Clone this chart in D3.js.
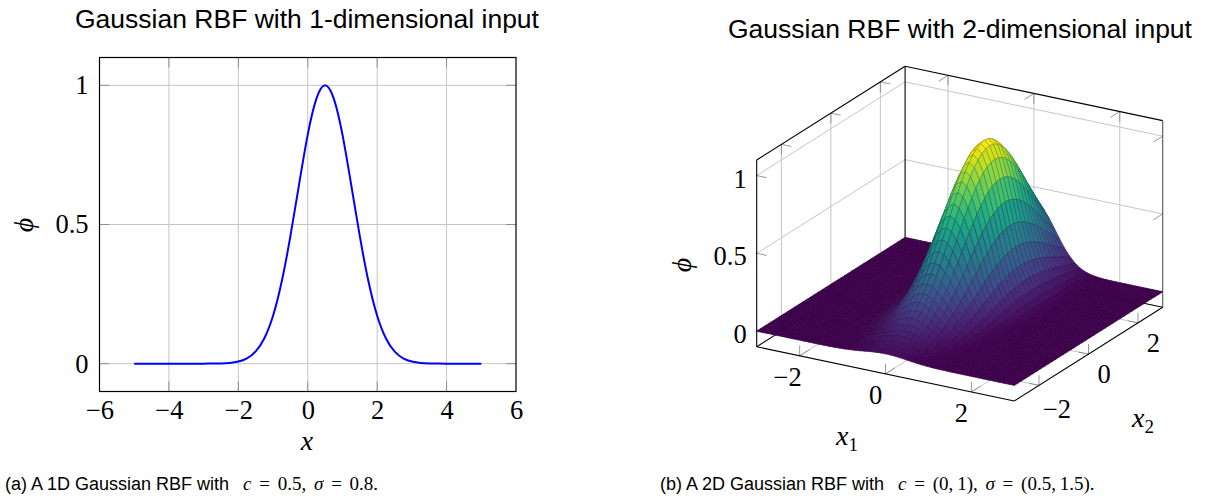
<!DOCTYPE html>
<html>
<head>
<meta charset="utf-8">
<script src="https://cdnjs.cloudflare.com/ajax/libs/d3/7.8.5/d3.min.js"></script>
<style>
    html, body { margin: 0; padding: 0; background: #fff; }
    svg { display: block; }
    text { fill: #000; }
    .title { font-family: "Liberation Sans", Arial, sans-serif; font-size: 26.5px; }
    .caption { font-family: "Liberation Sans", Arial, sans-serif; font-size: 18px; }
    .math { font-family: "Liberation Serif", serif; font-size: 19px; word-spacing: 3px; }
    .mathIt { font-family: "Liberation Serif", serif; font-size: 19px; font-style: italic; }
    .tickLabel, .tickLabel text { font-family: "Liberation Serif", serif; font-size: 26.5px; }
    .axisLabel { font-family: "Liberation Serif", serif; font-style: italic; font-size: 28px; }
</style>
</head>
<body>
<script>
// 1D curve
const curveX = [-5,-4.75,-4.5,-4.25,-4,-3.75,-3.5,-3.25,-3,-2.75,-2.5,-2.25,-2,-1.75,-1.5,-1.25,-1,-0.75,-0.5,-0.25,0,0.25,0.5,0.75,1,1.25,1.5,1.75,2,2.25,2.5,2.75,3,3.25,3.5,3.75,4,4.25,4.5,4.75,5];
const curvePhi = [0,0,0,0,0,0,0,0,0.0001,0.0003,0.0009,0.0027,0.0076,0.0192,0.0439,0.0914,0.172,0.295,0.458,0.644,0.823,0.952,1,0.952,0.823,0.644,0.458,0.295,0.172,0.0914,0.0439,0.0192,0.0076,0.0027,0.0009,0.0003,0.0001,0,0,0,0];

// surface profiles: height along x1 through the ridge, height along x2 through the ridge
const profileX1 = [0,0,0,0,0,0,0,0.0001,0.0002,0.0006,0.0015,0.0035,0.0077,0.0158,0.0307,0.0561,0.097,0.1583,0.2438,0.3546,0.4868,0.6308,0.7717,0.8912,0.9716,1,0.9716,0.8912,0.7717,0.6308,0.4868,0.3546,0.2438,0.1583,0.097,0.0561,0.0307,0.0158,0.0077,0.0035,0.0015,0.0006,0.0002,0.0001,0,0,0,0,0,0,0];
const profileX2 = [0.0286,0.0374,0.0484,0.0619,0.0784,0.0983,0.122,0.1497,0.1819,0.2187,0.2602,0.3063,0.3567,0.4111,0.4689,0.5292,0.591,0.6531,0.7141,0.7727,0.8276,0.8768,0.9192,0.9538,0.9792,0.9947,1,0.9947,0.9792,0.9538,0.9192,0.8768,0.8276,0.7727,0.7141,0.6531,0.591,0.5292,0.4689,0.4111];

const xTicks2d = [-6,-4,-2,0,2,4,6];
const yTicks2d = [0,0.5,1];
const x1Ticks = [-2,0,2];
const x2Ticks = [-2,0,2];
const zTicks = [0,0.5,1];

const gridColor = "#c6c6c6";
const tickColor = "#808080";

let svg = d3.select("body").append("svg").attr("width", 1212).attr("height", 499);

function addText(x, y, cls, txt){
    return svg.append("text").attr("class", cls).attr("x", x).attr("y", y).text(txt);
}

/* ---------- left panel ---------- */
function drawLeft(){
    let box = { left: 99.5, right: 516, top: 57.5, bottom: 391.5 };
    let x = d3.scaleLinear().domain([-6, 6]).range([box.left, box.right]);
    let y = d3.scaleLinear().domain([-0.1, 1.1]).range([box.bottom, box.top]);
    let g = svg.append("g");

    g.selectAll(".vgrid").data(xTicks2d.slice(1, -1)).join("line")
        .attr("x1", d => x(d)).attr("x2", d => x(d))
        .attr("y1", box.top).attr("y2", box.bottom)
        .attr("stroke", gridColor);
    g.selectAll(".hgrid").data(yTicks2d).join("line")
        .attr("class", "hgrid")
        .attr("x1", box.left).attr("x2", box.right)
        .attr("y1", d => y(d)).attr("y2", d => y(d))
        .attr("stroke", gridColor);

    // little inward ticks on all four sides
    let tl = 10;
    [box.top, box.bottom].forEach((edge, i) => {
        g.append("g").selectAll("line").data(xTicks2d.slice(1, -1)).join("line")
            .attr("x1", d => x(d)).attr("x2", d => x(d))
            .attr("y1", edge).attr("y2", i ? edge - tl : edge + tl)
            .attr("stroke", tickColor).attr("stroke-width", 0.8);
    });
    [box.left, box.right].forEach((edge, i) => {
        g.append("g").selectAll("line").data(yTicks2d).join("line")
            .attr("x1", edge).attr("x2", i ? edge - tl : edge + tl)
            .attr("y1", d => y(d)).attr("y2", d => y(d))
            .attr("stroke", tickColor).attr("stroke-width", 0.8);
    });

    let line = d3.line().x(d => x(d[0])).y(d => y(d[1])).curve(d3.curveNatural);
    g.append("path")
        .datum(d3.zip(curveX, curvePhi))
        .attr("d", line)
        .attr("fill", "none").attr("stroke", "#0000ff").attr("stroke-width", 2);

    g.append("rect")
        .attr("x", box.left).attr("y", box.top)
        .attr("width", box.right - box.left).attr("height", box.bottom - box.top)
        .attr("fill", "none").attr("stroke", "#000").attr("stroke-width", 1.2);

    let xAxis = d3.axisBottom(x).tickValues(xTicks2d).tickSize(0).tickPadding(8.7);
    let yAxis = d3.axisLeft(y).tickValues(yTicks2d).tickSize(0).tickPadding(11)
        .tickFormat(d => d);
    g.append("g").attr("class", "tickLabel")
        .attr("transform", `translate(0,${box.bottom})`).call(xAxis)
        .call(s => s.select(".domain").remove());
    g.append("g").attr("class", "tickLabel")
        .attr("transform", `translate(${box.left},0)`).call(yAxis)
        .call(s => s.select(".domain").remove());

    addText(307, 450, "axisLabel", "x").attr("text-anchor", "middle");
    addText(0, 0, "axisLabel", "\u03d5").attr("text-anchor", "middle")
        .attr("transform", "translate(33,225) rotate(-90)");
}

/* ---------- right panel ---------- */
function drawRight(){
    // each data axis gets its own pair of pixel scales, the picture is an oblique projection
    let x1ToX = d3.scaleLinear().domain([-3, 3]).range([0, 257.6]);
    let x1ToY = d3.scaleLinear().domain([-3, 3]).range([0, 54.3]);
    let x2ToX = d3.scaleLinear().domain([-3, 3]).range([0, 148.4]);
    let x2ToY = d3.scaleLinear().domain([-3, 3]).range([0, -93.7]);
    let zToY = d3.scaleLinear().domain([-0.1, 1.1]).range([0, -186.7]);
    let origin = [756.7, 346.7];
    let p = (a, b, c) => [origin[0] + x1ToX(a) + x2ToX(b), origin[1] + x1ToY(a) + x2ToY(b) + zToY(c)];

    let g = svg.append("g");
    let seg = (from, to, color, w) => g.append("line")
        .attr("x1", from[0]).attr("y1", from[1])
        .attr("x2", to[0]).attr("y2", to[1])
        .attr("stroke", color).attr("stroke-width", w);

    let zLo = -0.1, zHi = 1.1, lo = -3, hi = 3;

    // grid on the floor and the two back walls
    x1Ticks.forEach(t => {
        seg(p(t, lo, zLo), p(t, hi, zLo), gridColor, 1);
        seg(p(t, hi, zLo), p(t, hi, zHi), gridColor, 1);
    });
    x2Ticks.forEach(t => {
        seg(p(hi, t, zLo), p(lo, t, zLo), gridColor, 1);
        seg(p(lo, t, zLo), p(lo, t, zHi), gridColor, 1);
    });
    zTicks.forEach(t => {
        seg(p(lo, lo, t), p(lo, hi, t), gridColor, 1);
        seg(p(lo, hi, t), p(hi, hi, t), gridColor, 1);
    });

    // ticks
    let dz = 0.065, d1 = 0.23, d2 = 0.38;
    x1Ticks.forEach(t => {
        seg(p(t, lo, zLo), p(t, lo, zLo + dz), tickColor, 0.8);
        seg(p(t, lo, zLo), p(t, lo + d2, zLo), tickColor, 0.8);
        seg(p(t, hi, zHi), p(t, hi, zHi - dz), tickColor, 0.8);
        seg(p(t, hi, zHi), p(t, hi - d2, zHi), tickColor, 0.8);
    });
    x2Ticks.forEach(t => {
        seg(p(hi, t, zLo), p(hi, t, zLo + dz), tickColor, 0.8);
        seg(p(hi, t, zLo), p(hi - d1, t, zLo), tickColor, 0.8);
        seg(p(lo, t, zHi), p(lo, t, zHi - dz), tickColor, 0.8);
        seg(p(lo, t, zHi), p(lo + d1, t, zHi), tickColor, 0.8);
    });
    zTicks.forEach(t => {
        seg(p(lo, lo, t), p(lo + d1, lo, t), tickColor, 0.8);
        seg(p(hi, hi, t), p(hi, hi - d2, t), tickColor, 0.8);
    });

    // frame behind the surface
    seg(p(lo, lo, zLo), p(lo, lo, zHi), "#000", 1.1);
    seg(p(lo, lo, zHi), p(lo, hi, zHi), "#000", 1.1);
    seg(p(lo, hi, zHi), p(hi, hi, zHi), "#000", 1.1);
    seg(p(lo, hi, zLo), p(lo, hi, zHi), "#000", 1.1);
    seg(p(hi, hi, zLo), p(hi, hi, zHi), "#555", 1.1);
    seg(p(lo, lo, zLo), p(hi, lo, zLo), "#000", 1.1);
    seg(p(hi, lo, zLo), p(hi, hi, zLo), "#000", 1.1);
    seg(p(lo, lo, zLo), p(lo, hi, zLo), "#000", 1.1);
    seg(p(lo, hi, zLo), p(hi, hi, zLo), "#000", 1.1);

    // surface cells, height is the product of the two profiles, painted back to front
    let gridX1 = d3.scaleLinear().domain([0, profileX1.length - 1]).range([lo, hi]);
    let gridX2 = d3.scaleLinear().domain([0, profileX2.length - 1]).range([lo, hi]);
    let height = (i, j) => profileX1[i] * profileX2[j];
    let cells = [];
    for (let i = 0; i < profileX1.length - 1; i++){
        for (let j = profileX2.length - 2; j >= 0; j--){
            let corners = [[i, j], [i + 1, j], [i + 1, j + 1], [i, j + 1]];
            cells.push({
                pts: corners.map(c => p(gridX1(c[0]), gridX2(c[1]), height(c[0], c[1]))),
                meta: d3.mean(corners, c => height(c[0], c[1]))
            });
        }
    }
    let color = d3.scaleSequential(d3.interpolateViridis).domain([0, 1]);
    g.append("g").selectAll("path").data(cells).join("path")
        .attr("d", d => "M" + d.pts.join("L") + "Z")
        .attr("fill", d => color(d.meta))
        .attr("stroke", d => d3.rgb(color(d.meta)).darker(0.95).formatHex())
        .attr("stroke-width", 0.7)
        .attr("stroke-linejoin", "round");

    // tick labels
    let minus = d => d < 0 ? "\u2212" + Math.abs(d) : "" + d;
    x1Ticks.forEach(t => {
        let q = p(t, lo, zLo);
        addText(q[0] + (t < 0 ? -12 : -10), q[1] + 30, "tickLabel", minus(t))
            .attr("text-anchor", "middle");
    });
    x2Ticks.forEach(t => {
        let q = p(hi, t, zLo);
        addText(q[0] + (t < 0 ? 18 : 15.5), q[1] + (t < 0 ? 33 : 29), "tickLabel", minus(t))
            .attr("text-anchor", "middle");
    });
    zTicks.forEach(t => {
        let q = p(lo, lo, t);
        addText(q[0] - 10, q[1] + 12, "tickLabel", "" + t).attr("text-anchor", "end");
    });

    let x1Lab = addText(836, 445, "axisLabel", "x");
    x1Lab.append("tspan").attr("class", "math").attr("dy", 6).attr("font-size", 19).attr("font-style", "normal").text("1");
    let x2Lab = addText(1132, 427, "axisLabel", "x");
    x2Lab.append("tspan").attr("class", "math").attr("dy", 6).attr("font-size", 19).attr("font-style", "normal").text("2");
    addText(0, 0, "axisLabel", "\u03d5").attr("text-anchor", "middle")
        .attr("transform", "translate(691,265) rotate(-90)");
}

function drawCaption(x, y, parts){
    let t = svg.append("text").attr("class", "caption").attr("x", x).attr("y", y);
    parts.forEach(q => {
        let s = t.append("tspan").text(q[0]);
        if (q[1]) s.attr("class", q[1]);
        if (q[2]) s.attr("dx", q[2]);
    });
}

drawLeft();
drawRight();

addText(75, 28, "title", "Gaussian RBF with 1-dimensional input");
addText(728, 38, "title", "Gaussian RBF with 2-dimensional input");

drawCaption(5, 490, [["(a) A 1D Gaussian RBF with "], ["c", "mathIt", 9], [" = 0.5, ", "math"], ["\u03c3", "mathIt"], [" = 0.8.", "math"]]);
drawCaption(660, 490, [["(b) A 2D Gaussian RBF with "], ["c", "mathIt", 9], [" = (0,\u20091), ", "math"], ["\u03c3", "mathIt"], [" = (0.5,\u20091.5).", "math"]]);
</script>
</body>
</html>
